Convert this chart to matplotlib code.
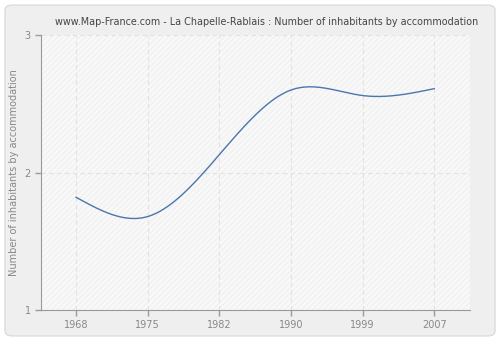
import numpy as np
import matplotlib.pyplot as plt
from matplotlib.patches import FancyBboxPatch

years = ['1968', '1975', '1982', '1990', '1999', '2007']
inhabitants = [1.82, 1.68, 2.13, 2.60, 2.56, 2.61]
y_ticks = [1, 2, 3]


def natural_spline(x, y, n=300):
    """Natural cubic spline through (x, y), evaluated on a fine grid."""
    x = np.asarray(x, float)
    y = np.asarray(y, float)
    h = np.diff(x)
    m = len(x)
    A = np.zeros((m, m))
    b = np.zeros(m)
    A[0, 0] = A[-1, -1] = 1
    for i in range(1, m - 1):
        A[i, i - 1] = h[i - 1]
        A[i, i] = 2 * (h[i - 1] + h[i])
        A[i, i + 1] = h[i]
        b[i] = 6 * ((y[i + 1] - y[i]) / h[i] - (y[i] - y[i - 1]) / h[i - 1])
    M = np.linalg.solve(A, b)
    xs = np.linspace(x[0], x[-1], n)
    k = np.clip(np.searchsorted(x, xs) - 1, 0, m - 2)
    t0 = x[k + 1] - xs
    t1 = xs - x[k]
    ys = (M[k] * t0**3 + M[k + 1] * t1**3) / (6 * h[k]) \
        + (y[k] / h[k] - M[k] * h[k] / 6) * t0 \
        + (y[k + 1] / h[k] - M[k + 1] * h[k] / 6) * t1
    return xs, ys


plt.rcParams['hatch.color'] = '#ececec'
plt.rcParams['hatch.linewidth'] = 0.5

fig = plt.figure(figsize=(5, 3.4), dpi=100)
fig.patch.set_facecolor('white')
fig.patches.append(FancyBboxPatch((0.01, 0.012), 0.98, 0.973,
                                  boxstyle='round,pad=0,rounding_size=0.015',
                                  transform=fig.transFigure, facecolor='#efefef',
                                  edgecolor='#dcdcdc', linewidth=1, zorder=-10))

ax = fig.add_axes([0.082, 0.088, 0.858, 0.809])
ax.set_facecolor('#f8f8f8')
ax.patch.set_hatch('//////')
ax.patch.set_edgecolor('#ececec')
ax.patch.set_linewidth(0)

pos = np.arange(len(years))
xs, ys = natural_spline(pos, inhabitants)
ax.plot(xs, ys, color='#4a76ad', linewidth=1)

ax.set_xlim(-0.49, 5.5)
ax.set_ylim(1, 3)
ax.set_xticks(pos)
ax.set_xticklabels(years)
ax.set_yticks(y_ticks)
ax.grid(True, color='#e2e2e2', linestyle=(0, (4, 3)), linewidth=0.8)
ax.set_axisbelow(True)

for side in ['top', 'right']:
    ax.spines[side].set_visible(False)
for side in ['left', 'bottom']:
    ax.spines[side].set_color('#9a9a9a')
ax.tick_params(colors='#9a9a9a', labelcolor='#888888', labelsize=7, length=4, width=1)

ax.set_ylabel('Number of inhabitants by accommodation', fontsize=7, color='#888888')
ax.set_title('www.Map-France.com - La Chapelle-Rablais : Number of inhabitants by accommodation',
             fontsize=6.9, color='#444444', pad=7, x=0.527)

fig.savefig('out.png', dpi=100, facecolor=fig.get_facecolor())
